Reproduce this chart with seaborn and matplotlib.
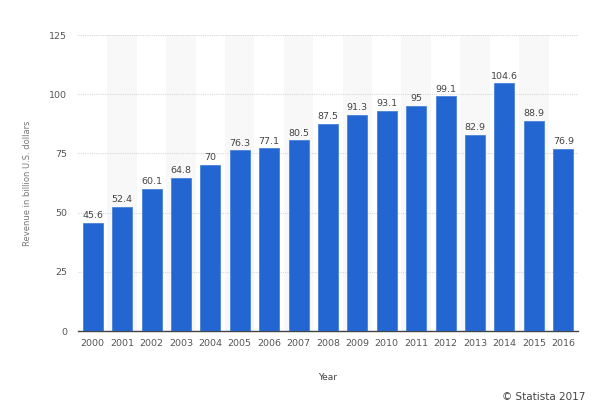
import numpy as np
import pandas as pd
import matplotlib
matplotlib.use("Agg")
import matplotlib.pyplot as plt
import seaborn as sns

years = ["2000", "2001", "2002", "2003", "2004", "2005", "2006", "2007", "2008",
         "2009", "2010", "2011", "2012", "2013", "2014", "2015", "2016"]
revenue = [45.6, 52.4, 60.1, 64.8, 70, 76.3, 77.1, 80.5, 87.5,
           91.3, 93.1, 95, 99.1, 82.9, 104.6, 88.9, 76.9]
value_labels = ["45.6", "52.4", "60.1", "64.8", "70", "76.3", "77.1", "80.5", "87.5",
                "91.3", "93.1", "95", "99.1", "82.9", "104.6", "88.9", "76.9"]
yticks = [0, 25, 50, 75, 100, 125]

df = pd.DataFrame({"Year": years, "Revenue": revenue})

sns.set_style("white")
plt.rcParams['font.family'] = ['DejaVu Sans']

fig = plt.figure(figsize=(6.02, 4.11), dpi=100)
ax = fig.add_axes([0.1296, 0.1946, 0.8304, 0.7202])

# alternating column stripes
for i in range(len(years)):
    if i % 2 == 1:
        ax.axvspan(i - 0.5, i + 0.5, color="#f8f8f8", zorder=0, lw=0)

sns.barplot(data=df, x="Year", y="Revenue", color="#2466d1", saturation=1,
            width=0.68, ax=ax, zorder=3, edgecolor="#4a82db", linewidth=0.6)

for i, lab in enumerate(value_labels):
    ax.annotate(lab, (i, revenue[i]), xytext=(0, 2), textcoords="offset points",
                ha="center", va="bottom", fontsize=6.8, color="#444444")

ax.set_xlim(-0.5, len(years) - 0.5)
ax.set_ylim(0, 125)
ax.set_yticks(yticks)
ax.grid(True, axis="y", linestyle=(0, (1, 1)), color="#d8d8d8", lw=0.8, zorder=1)
ax.set_axisbelow(True)
for s in ["top", "right", "left"]:
    ax.spines[s].set_visible(False)
ax.spines["bottom"].set_color("#444444")
ax.spines["bottom"].set_linewidth(1.0)
ax.tick_params(axis="both", length=0, labelsize=6.8, labelcolor="#555555")
ax.tick_params(axis="y", pad=8)
ax.tick_params(axis="x", pad=6)

ax.set_xlabel("Year", fontsize=6.5, color="#444444", labelpad=18)
ax.set_ylabel("Revenue in billion U.S. dollars", fontsize=6, color="#777777", labelpad=12)

fig.text(0.972, 0.022, "\u00a9 Statista 2017", ha="right", va="bottom",
         fontsize=7.5, color="#444444")

fig.savefig("out.png", dpi=100)
